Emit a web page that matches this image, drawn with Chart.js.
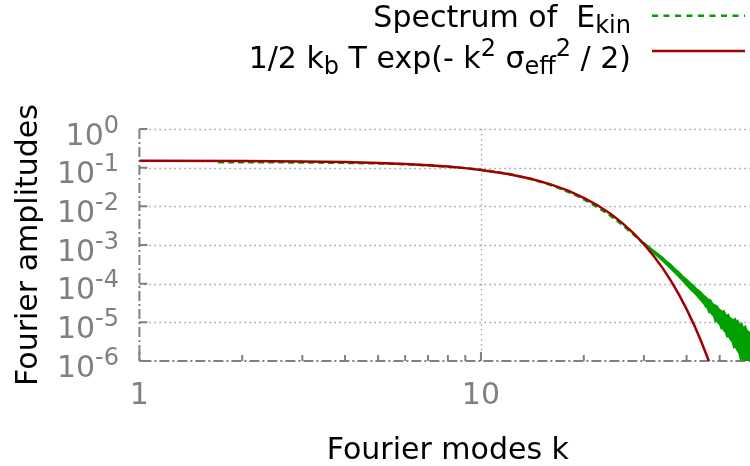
<!DOCTYPE html>
<html>
<head>
<meta charset="utf-8">
<script src="https://cdn.jsdelivr.net/npm/chart.js@4.4.1/dist/chart.umd.min.js"></script>
<style>
  html, body { margin: 0; padding: 0; background: #fff; overflow: hidden; }
  #wrap { width: 760px; height: 466px; }
</style>
</head>
<body>
<div id="wrap"><canvas id="spectrum" width="760" height="466" style="width:760px;height:466px"></canvas></div>
<script>
// fitted curve 1/2 kb T exp(-k^2 sigma^2 / 2)
const fitK = [1, 2, 3, 4, 5, 6, 7, 8, 9, 10, 12, 14, 16, 18, 20, 22, 24, 26, 28, 30, 32, 34, 36, 38, 40, 42, 44, 46, 47, 48];
const fitAmp = [0.151, 0.1486, 0.1445, 0.1393, 0.1324, 0.1247, 0.1159, 0.1067, 0.0973, 0.0875, 0.0686, 0.0515, 0.037, 0.0254,
  0.01667, 0.01047, 0.00631, 0.00363, 0.002, 0.00105, 5.3e-4, 2.56e-4, 1.18e-4, 5.2e-5, 2.2e-5, 8.87e-6, 3.44e-6, 1.27e-6, 7.6e-7, 4.5e-7];

// spectrum of E_kin, low modes (dashed line)
const specK = [1.7, 2, 2.5, 3, 4, 5, 6, 7, 8, 9, 10, 11, 12, 13, 14, 15, 16, 17, 18, 19, 20, 21, 22, 23, 24, 25, 26, 27, 28, 29, 30, 31, 32, 33];
const specAmp = [0.138, 0.138, 0.1374, 0.1365, 0.1334, 0.1288, 0.123, 0.1148, 0.1059, 0.0966, 0.0881, 0.0785, 0.0692, 0.0596,
  0.0507, 0.0427, 0.0355, 0.0292, 0.0237, 0.0191, 0.0151, 0.0119, 0.00933, 0.00724, 0.00562, 0.00427, 0.00324, 0.00245,
  0.00186, 0.00141, 0.00107, 8.5e-4, 6.8e-4, 5.4e-4];

// spectrum of E_kin, high modes: scattered band (upper / lower edge)
const bandK = [30, 31, 32, 33, 34, 35, 36, 37, 38, 39, 40, 41, 42, 43, 44, 45, 45.5, 46, 46.5, 47, 47.5, 48, 48.5, 49, 49.5,
  50, 50.5, 51, 51.5, 52, 52.5, 53, 53.5, 54, 54.5, 55, 55.5, 56, 56.5, 57, 57.5, 58, 58.5, 59, 59.5, 60, 61, 62, 63, 64];
const bandHigh = [1.15e-3, 9.1e-4, 7.3e-4, 5.9e-4, 4.8e-4, 3.76e-4, 3.1e-4, 2.4e-4, 2.0e-4, 1.55e-4, 1.3e-4, 1.05e-4, 8.8e-5,
  7.1e-5, 6.1e-5, 4.9e-5, 4.6e-5, 4.1e-5, 3.9e-5, 3.8e-5, 3.2e-5, 2.9e-5, 2.75e-5, 2.7e-5, 2.35e-5, 2.14e-5, 2.0e-5, 1.86e-5,
  2.0e-5, 1.62e-5, 1.5e-5, 1.6e-5, 1.32e-5, 1.26e-5, 1.2e-5, 1.15e-5, 1.25e-5, 1.02e-5, 1.12e-5, 9.1e-6, 8.7e-6, 9.5e-6,
  7.6e-6, 7.4e-6, 8.0e-6, 6.3e-6, 5.6e-6, 5.0e-6, 4.4e-6, 3.8e-6];
const bandLow = [1.0e-3, 7.9e-4, 6.2e-4, 4.9e-4, 3.9e-4, 3.05e-4, 2.4e-4, 1.9e-4, 1.48e-4, 1.17e-4, 9.1e-5, 7.2e-5, 5.9e-5,
  4.7e-5, 3.7e-5, 2.95e-5, 2.5e-5, 2.35e-5, 1.8e-5, 1.8e-5, 1.6e-5, 1.45e-5, 1.05e-5, 1.12e-5, 9.5e-6, 8.9e-6, 6.8e-6, 7.1e-6,
  6.0e-6, 5.6e-6, 4.2e-6, 4.4e-6, 3.8e-6, 3.4e-6, 3.0e-6, 2.2e-6, 2.35e-6, 2.05e-6, 1.74e-6, 1.58e-6, 1.1e-6, 1.2e-6,
  1.0e-6, 8.9e-7, 7.6e-7, 6.6e-7, 5e-7, 4e-7, 3.2e-7, 2.5e-7];

// axis ticks
const xTicks = [1, 2, 3, 4, 5, 6, 7, 8, 9, 10, 20, 30, 40, 50, 60];
const xLabels = { 1: "1", 10: "10" };
const yTicks = [1, 1e-1, 1e-2, 1e-3, 1e-4, 1e-5, 1e-6];
const yExp = ["0", "-1", "-2", "-3", "-4", "-5", "-6"];

const GREEN = "#00a000";
const RED = "#a00000";
const GRAY = "#808080";
const FONT = '"DejaVu Sans", sans-serif';

const pts = (xs, ys) => xs.map((x, i) => ({ x, y: ys[i] }));

const drawRich = (ctx, parts, xRight, baseline) => {
  const font = { n: `30px ${FONT}`, sub: `24px ${FONT}`, sup: `24px ${FONT}` };
  const shift = { n: 0, sub: 6.5, sup: -12 };
  let w = 0;
  parts.forEach(([t, m]) => { ctx.font = font[m]; w += ctx.measureText(t).width; });
  let x = xRight - w;
  ctx.textAlign = "left";
  ctx.textBaseline = "alphabetic";
  parts.forEach(([t, m]) => {
    ctx.font = font[m];
    ctx.fillText(t, x, baseline + shift[m]);
    x += ctx.measureText(t).width;
  });
};

const gnuplotFrame = {
  id: "gnuplotFrame",
  beforeDatasetsDraw(chart) {
    const { ctx, chartArea: a, scales: { x, y } } = chart;
    ctx.save();
    // dotted grid
    ctx.strokeStyle = "#a0a0a0";
    ctx.lineWidth = 1.3;
    ctx.setLineDash([1.5, 3.5]);
    ctx.beginPath();
    yTicks.forEach((v) => {
      if (v <= y.min) return;
      const py = Math.round(y.getPixelForValue(v)) + 0.5;
      ctx.moveTo(a.left, py); ctx.lineTo(a.right, py);
    });
    xTicks.forEach((v) => {
      if (!xLabels[v] || v <= x.min) return;
      const px = Math.round(x.getPixelForValue(v)) + 0.5;
      ctx.moveTo(px, a.top); ctx.lineTo(px, a.bottom);
    });
    ctx.stroke();
    // tick marks
    ctx.setLineDash([]);
    ctx.strokeStyle = GRAY;
    ctx.lineWidth = 2;
    ctx.beginPath();
    yTicks.forEach((v) => {
      const py = y.getPixelForValue(v);
      ctx.moveTo(a.left, py); ctx.lineTo(a.left + 8, py);
    });
    xTicks.forEach((v) => {
      const px = x.getPixelForValue(v);
      ctx.moveTo(px, a.bottom); ctx.lineTo(px, a.bottom - (xLabels[v] ? 9 : 6));
    });
    ctx.stroke();
    // dash-dot border
    ctx.setLineDash([10, 3, 2, 3]);
    ctx.beginPath();
    ctx.moveTo(a.left, a.top);
    ctx.lineTo(a.left, a.bottom);
    ctx.lineTo(a.right, a.bottom);
    ctx.stroke();
    ctx.restore();
  },
  afterDraw(chart) {
    const { ctx, chartArea: a, scales: { x, y } } = chart;
    ctx.save();
    // tick labels
    ctx.fillStyle = GRAY;
    ctx.font = `30px ${FONT}`;
    ctx.textAlign = "center";
    ctx.textBaseline = "alphabetic";
    xTicks.forEach((v) => {
      if (xLabels[v]) ctx.fillText(xLabels[v], x.getPixelForValue(v), 404);
    });
    yTicks.forEach((v, i) => {
      const py = y.getPixelForValue(v);
      drawRich(ctx, [["10", "n"], [yExp[i], "sup"]], 119, py + 15.5);
    });
    // axis titles
    ctx.fillStyle = "#000";
    ctx.font = `30px ${FONT}`;
    ctx.textAlign = "center";
    ctx.fillText("Fourier modes k", (a.left + a.right) / 2, 459);
    ctx.translate(37, (a.top + a.bottom) / 2);
    ctx.rotate(-Math.PI / 2);
    ctx.fillText("Fourier amplitudes", 0, 0);
    ctx.setTransform(1, 0, 0, 1, 0, 0);
    // key
    drawRich(ctx, [["Spectrum of  E", "n"], ["kin", "sub"]], 631, 26.7);
    drawRich(ctx, [["1/2 k", "n"], ["b", "sub"], [" T exp(- k", "n"], ["2", "sup"], [" \u03c3", "n"],
      ["eff", "sub"], ["2", "sup"], [" / 2)", "n"]], 631, 67.5);
    ctx.lineWidth = 2.5;
    ctx.strokeStyle = GREEN;
    ctx.setLineDash([6, 5.5]);
    ctx.beginPath(); ctx.moveTo(652, 15.7); ctx.lineTo(745, 15.7); ctx.stroke();
    ctx.strokeStyle = RED;
    ctx.setLineDash([]);
    ctx.beginPath(); ctx.moveTo(652, 51); ctx.lineTo(745, 51); ctx.stroke();
    ctx.restore();
  },
};

new Chart(document.getElementById("spectrum"), {
  type: "line",
  data: {
    datasets: [
      { label: "fit", data: pts(fitK, fitAmp), borderColor: RED, borderWidth: 2.5, pointRadius: 0, fill: false },
      { label: "Spectrum of E_kin", data: pts(specK, specAmp), borderColor: GREEN, borderWidth: 2.5, borderDash: [6, 4],
        pointRadius: 0, fill: false },
      { label: "band high", data: pts(bandK, bandHigh), borderColor: GREEN, borderWidth: 1.5, pointRadius: 0,
        fill: "+1", backgroundColor: GREEN },
      { label: "band low", data: pts(bandK, bandLow), borderColor: GREEN, borderWidth: 1.5, pointRadius: 0, fill: false },
    ],
  },
  options: {
    responsive: false,
    animation: false,
    layout: { padding: { left: 0, right: 760 - 756.3, top: 129, bottom: 0 } },
    plugins: { legend: { display: false }, tooltip: { enabled: false } },
    scales: {
      x: {
        type: "logarithmic", min: 1, max: 64,
        ticks: { display: false }, grid: { display: false }, border: { display: false },
        afterFit: (s) => { s.height = 105; },
      },
      y: {
        type: "logarithmic", min: 1e-6, max: 1,
        ticks: { display: false }, grid: { display: false }, border: { display: false },
        afterFit: (s) => { s.width = 139.4; },
      },
    },
  },
  plugins: [gnuplotFrame],
});
</script>
</body>
</html>
